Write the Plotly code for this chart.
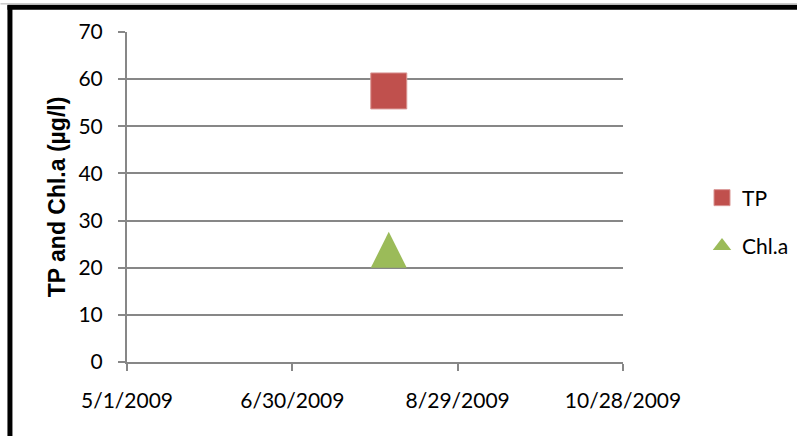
import plotly.graph_objects as go

# Data
dates = ["2009-08-04"]
tp_values = [57.5]
chla_values = [23.8]
x_tick_vals = ["2009-05-01", "2009-06-30", "2009-08-29", "2009-10-28"]
x_tick_text = ["5/1/2009", "6/30/2009", "8/29/2009", "10/28/2009"]
y_tick_vals = [0, 10, 20, 30, 40, 50, 60, 70]

TICK_FONT = dict(family="Lato, Liberation Sans, sans-serif", size=21, color="#000000")
GRID = "#878787"
RED = "#C0504D"
GREEN = "#9BBB59"

fig = go.Figure()
fig.add_trace(go.Scatter(
    x=dates, y=tp_values, mode="markers", name="TP", legendgroup="tp",
    marker=dict(symbol="square", size=36, color=RED,
                line=dict(color="#D99694", width=1)),
))
fig.add_trace(go.Scatter(
    x=dates, y=chla_values, mode="markers", name="Chl.a", legendgroup="chla",
    showlegend=False,
    marker=dict(symbol="arrow-down", angle=180, standoff=18, size=36,
                color=GREEN, line=dict(width=0)),
))
# legend entry for Chl.a
fig.add_trace(go.Scatter(
    x=[None], y=[None], mode="markers", name="Chl.a", legendgroup="chla",
    marker=dict(symbol="triangle-up", size=16, color=GREEN, line=dict(width=0)),
))

L, R, T, B = 126.7, 797 - 623.3, 31.7, 436 - 362.5
pw = 797 - L - R
ph = 436 - T - B

def px_x(p):
    return (p - L) / pw

def px_y(p):
    return (436 - B - p) / ph

shapes = [
    dict(type="line", xref="paper", yref="paper",
         x0=px_x(9.5), x1=px_x(9.5), y0=px_y(5), y1=px_y(440),
         line=dict(color="#000000", width=5)),
    dict(type="line", xref="paper", yref="paper",
         x0=px_x(7), x1=px_x(800), y0=px_y(7), y1=px_y(7),
         line=dict(color="#000000", width=5)),
    dict(type="line", xref="paper", yref="paper",
         x0=px_x(0), x1=px_x(800), y0=px_y(3.5), y1=px_y(3.5),
         line=dict(color="#B0B0B0", width=1)),
]

fig.update_layout(
    width=797, height=436,
    margin=dict(l=L, r=R, t=T, b=B, pad=0, autoexpand=False),
    paper_bgcolor="white", plot_bgcolor="white",
    showlegend=True,
    legend=dict(xref="container", yref="container",
                x=702 / 797, y=1 - 222 / 436, xanchor="left", yanchor="middle",
                font=TICK_FONT, tracegroupgap=18, bgcolor="rgba(0,0,0,0)"),
    shapes=shapes,
    xaxis=dict(
        type="date", range=["2009-05-01", "2009-10-28"],
        tickmode="array", tickvals=x_tick_vals, ticktext=x_tick_text,
        showgrid=False, zeroline=False,
        showline=True, linecolor=GRID, linewidth=2,
        ticks="outside", ticklen=7, tickwidth=2, tickcolor=GRID,
        tickfont=TICK_FONT, ticklabelstandoff=12,
    ),
    yaxis=dict(
        range=[0, 70], tickmode="array", tickvals=y_tick_vals,
        showgrid=True, gridcolor=GRID, gridwidth=2, zeroline=False,
        showline=True, linecolor=GRID, linewidth=2,
        ticks="outside", ticklen=7, tickwidth=2, tickcolor=GRID,
        tickfont=TICK_FONT, ticklabelstandoff=11,
        title=dict(text="<b>TP and Chl.a (µg/l)</b>",
                   font=dict(family="Liberation Sans, Arial, sans-serif", size=23, color="#000000"),
                   standoff=6),
    ),
)

fig.write_html("out.html")
